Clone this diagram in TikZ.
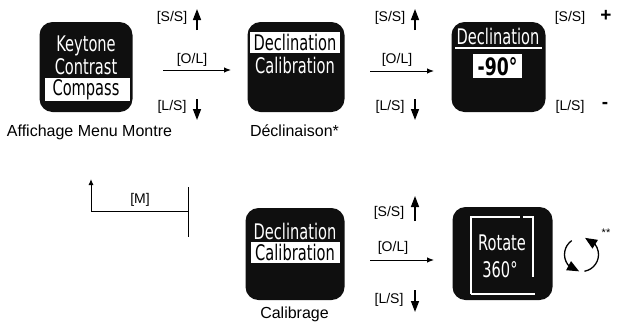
\documentclass[tikz,border=0pt]{standalone}
\usepackage{fontspec}
\setmainfont{Liberation Sans}
\newfontfamily\lcd[FakeStretch=0.68]{DejaVu Sans}
\newfontfamily\lcdb[FakeStretch=0.72]{DejaVu Sans Bold}
\usetikzlibrary{arrows.meta,bending}
\tikzset{
  screen/.style={draw=none, fill=black!94, rounded corners=13pt, inner sep=0pt},
  lcdw/.style={text=white, font=\lcd\fontsize{21.5}{21.5}\selectfont, inner sep=0pt},
  lcdk/.style={text=black, font=\lcd\fontsize{21.5}{21.5}\selectfont, inner sep=0pt},
  hilite/.style={fill=white, draw=none},
  lbl/.style={font=\fontsize{14}{16}\selectfont, inner sep=0pt},
  captxt/.style={font=\fontsize{16}{19}\selectfont, inner sep=0pt, anchor=base},
  harrow/.style={line width=1pt, -{Latex[length=7pt,width=5.5pt]}},
  varrow/.style={line width=1.5pt, -{Triangle[length=11pt,width=8pt]}},
  rotarrow/.style={line width=1.3pt, -{Triangle[length=12pt,width=10pt,flex]}},
  frameline/.style={draw=white, line width=1.8pt}
}
\begin{document}
\begin{tikzpicture}[x=1pt,y=-1pt]
\useasboundingbox (0,0) rectangle (617,327);
% ---------- screens ----------
\node[screen, minimum width=93pt, minimum height=90pt] (s1) at (86,67) {};
\node[screen, minimum width=97pt, minimum height=90pt] (s2) at (296,67) {};
\node[screen, minimum width=94pt, minimum height=90pt] (s3) at (498.5,67) {};
\node[screen, minimum width=99pt, minimum height=92pt] (s4) at (295,254) {};
\node[screen, minimum width=100pt, minimum height=93pt] (s5) at (502.5,253.5) {};
% screen 1
\fill[hilite] (45,78) rectangle (130,101);
\node[lcdw] (t11) at (86,46) {Keytone};
\node[lcdw] (t12) at (86,67) {Contrast};
\node[lcdk] (t13) at (86,89.5) {Compass};
% screen 2
\fill[hilite] (250,32) rectangle (340,53);
\node[lcdk] (t21) at (295,42.5) {Declination};
\node[lcdw] (t22) at (295,65) {Calibration};
% screen 3
\node[lcdw] (t31) at (498,36.5) {Declination};
\draw[white, line width=1.4pt] (455,48) -- (542,48);
\fill[hilite] (473,54) rectangle (522,78);
\node[text=black, font=\lcdb\fontsize{24}{24}\selectfont, inner sep=0pt] (t32) at (497.5,66.5) {-90°};
% screen 4
\node[lcdw] (t41) at (295,231) {Declination};
\fill[hilite] (251,242) rectangle (340,263);
\node[lcdk] (t42) at (295,252.5) {Calibration};
% screen 5
\draw[frameline] (471,294) -- (471,217) -- (520,217);
\draw[frameline] (523,217) -- (533,217) -- (533,277);
\draw[frameline] (471,294) -- (535,294);
\node[lcdw] (t51) at (502,243) {Rotate};
\node[lcdw] (t52) at (500,270) {360°};
% ---------- captions ----------
\node[captxt] (c1) at (89.5,136.5) {Affichage Menu Montre};
\node[captxt] (c2) at (294.5,136.5) {Déclinaison*};
\node[captxt] (c4) at (294.5,318) {Calibrage};
% ---------- row 1, first transition ----------
\node[lbl] (ss1) at (172,18) {[S/S]};
\node[lbl] (ol1) at (192,60) {[O/L]};
\node[lbl] (ls1) at (172,107) {[L/S]};
\coordinate (u1a) at (197,30); \coordinate (u1b) at (197,9);
\coordinate (d1a) at (197,99); \coordinate (d1b) at (197,120);
\coordinate (h1a) at (163,70); \coordinate (h1b) at (231,70);
\draw[varrow] (u1a) -- (u1b);
\draw[varrow] (d1a) -- (d1b);
\draw[harrow] (h1a) -- (h1b);
% ---------- row 1, second transition ----------
\node[lbl] (ss2) at (390,18) {[S/S]};
\node[lbl] (ol2) at (397,60) {[O/L]};
\node[lbl] (ls2) at (390,107) {[L/S]};
\coordinate (u2a) at (415,30); \coordinate (u2b) at (415,9);
\coordinate (d2a) at (415,99); \coordinate (d2b) at (415,120);
\coordinate (h2a) at (370,71); \coordinate (h2b) at (434,71);
\draw[varrow] (u2a) -- (u2b);
\draw[varrow] (d2a) -- (d2b);
\draw[harrow] (h2a) -- (h2b);
% ---------- +/- ----------
\node[lbl] (ss3) at (570,18) {[S/S]};
\node[font=\bfseries\fontsize{19}{19}\selectfont, inner sep=0pt] (plus) at (606,16) {+};
\node[lbl] (ls3) at (570,107) {[L/S]};
\node[font=\bfseries\fontsize{19}{19}\selectfont, inner sep=0pt] (minus) at (605,105) {-};
% ---------- [M] ----------
\coordinate (m1) at (188,187); \coordinate (m2) at (188,237);
\coordinate (m3) at (188,211); \coordinate (m4) at (91,211);
\coordinate (m5) at (91,179);
\draw[line width=1pt] (m1) -- (m2);
\draw[line width=1pt, -{Latex[length=6pt,width=5pt]}] (m3) -- (m4) -- (m5);
\node[lbl] (mm) at (140,200) {[M]};
% ---------- row 2 ----------
\node[lbl] (ss4) at (389,213) {[S/S]};
\node[lbl] (ol4) at (393,248) {[O/L]};
\node[lbl] (ls4) at (389,300) {[L/S]};
\coordinate (u4a) at (415,221); \coordinate (u4b) at (415,196);
\coordinate (d4a) at (415,290); \coordinate (d4b) at (415,312);
\coordinate (h4a) at (370,260); \coordinate (h4b) at (434,260);
\draw[varrow] (u4a) -- (u4b);
\draw[varrow] (d4a) -- (d4b);
\draw[harrow] (h4a) -- (h4b);
% ---------- rotation arrows ----------
\coordinate (rc) at (581.5,254.5);
\draw[rotarrow] ([shift={(125:17pt)}]rc) arc[start angle=125, end angle=262, radius=17pt];
\draw[rotarrow] ([shift={(-80:17pt)}]rc) arc[start angle=-80, end angle=78, radius=17pt];
\node[font=\fontsize{11}{11}\selectfont, inner sep=0pt] (stars) at (606,233) {**};
\end{tikzpicture}
\end{document}
